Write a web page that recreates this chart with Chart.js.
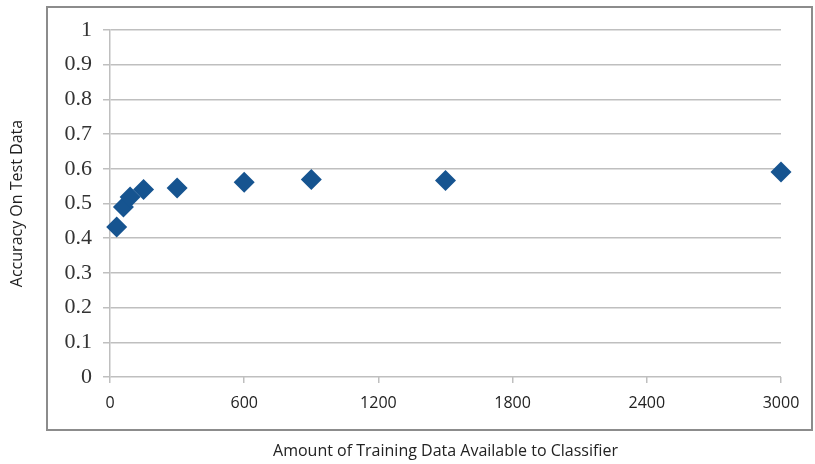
<!DOCTYPE html>
<html>
<head>
<meta charset="utf-8">
<script src="https://cdn.jsdelivr.net/npm/chart.js@4/dist/chart.umd.min.js"></script>
<style>
html,body{margin:0;padding:0;background:#fff;}
#wrap{width:815px;height:464px;position:relative;}
</style>
</head>
<body>
<div id="wrap"><canvas id="c" width="815" height="464"></canvas></div>
<script>
const trainingAmount = [30, 60, 90, 150, 300, 600, 900, 1500, 3000];
const accuracy = [0.432, 0.490, 0.519, 0.540, 0.545, 0.561, 0.569, 0.566, 0.591];
const xTicks = [0, 600, 1200, 1800, 2400, 3000];
const yTicks = [0, 0.1, 0.2, 0.3, 0.4, 0.5, 0.6, 0.7, 0.8, 0.9, 1];

const points = trainingAmount.map((x, i) => ({x: x, y: accuracy[i]}));

const framePlugin = {
  id: 'frame',
  beforeDraw(chart) {
    const ctx = chart.ctx;
    ctx.save();
    ctx.fillStyle = '#fff';
    ctx.fillRect(0, 0, chart.width, chart.height);
    ctx.strokeStyle = '#8c8c8c';
    ctx.lineWidth = 2;
    ctx.strokeRect(47, 7, 765, 423);
    ctx.restore();
  }
};

new Chart(document.getElementById('c'), {
  type: 'scatter',
  data: {
    datasets: [{
      data: points,
      clip: false,
      pointStyle: 'rectRot',
      pointRadius: 10.5,
      pointHoverRadius: 10.5,
      backgroundColor: '#165490',
      borderColor: '#165490',
      borderWidth: 0
    }]
  },
  options: {
    responsive: false,
    animation: false,
    events: [],
    layout: {padding: {left: 0, right: 34, top: 30, bottom: 0}},
    plugins: {legend: {display: false}, tooltip: {enabled: false}},
    scales: {
      x: {
        type: 'linear',
        min: 0, max: 3000,
        afterBuildTicks(scale) { scale.ticks = xTicks.map(v => ({value: v})); },
        afterFit(scale) { scale.height = 87; },
        grid: {drawOnChartArea: false, drawTicks: true, tickLength: 6, color: '#bfbfbf', lineWidth: 1.5},
        border: {display: false},
        ticks: {padding: 11, color: '#222', font: {family: 'Open Sans', size: 16},
                callback: v => String(v)},
        title: {display: true, text: 'Amount of Training Data Available to Classifier', color: '#222',
                font: {family: 'Open Sans', size: 16}, padding: {top: 0, bottom: 3}}
      },
      y: {
        min: 0, max: 1,
        afterBuildTicks(scale) { scale.ticks = yTicks.map(v => ({value: v})); },
        afterFit(scale) { scale.width = 110; },
        grid: {color: '#bfbfbf', lineWidth: 1.5, tickLength: 7},
        border: {display: true, color: '#bfbfbf', width: 1.5},
        ticks: {padding: 11, color: '#333', font: {family: 'Liberation Serif', size: 22},
                callback: v => String(Math.round(v * 10) / 10)},
        title: {display: true, text: 'Accuracy On Test Data', color: '#222',
                font: {family: 'Open Sans', size: 16}, padding: {top: 8, bottom: 0}}
      }
    }
  },
  plugins: [framePlugin]
});
</script>
</body>
</html>
